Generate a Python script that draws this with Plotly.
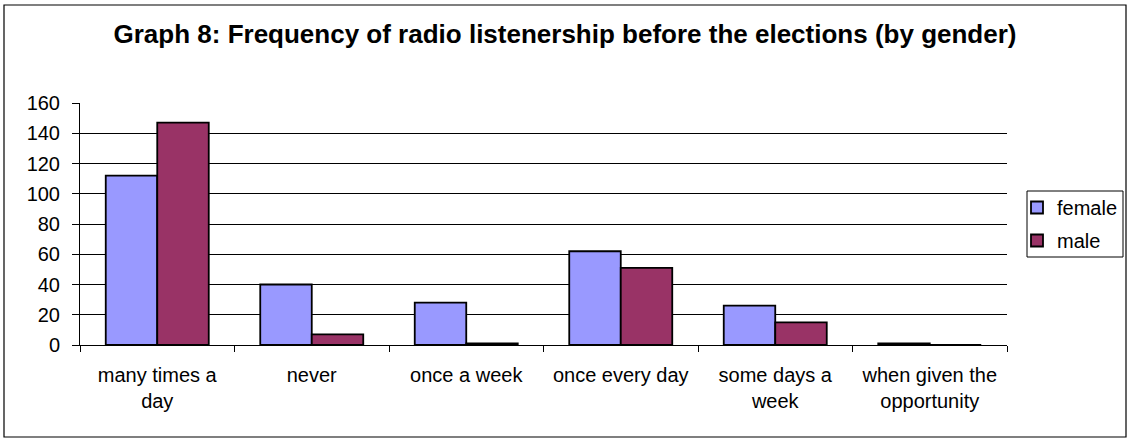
import plotly.graph_objects as go

categories = ["many times a day", "never", "once a week", "once every day",
              "some days a week", "when given the opportunity"]
tick_labels = ["many times a<br>day", "never", "once a week", "once every day",
               "some days a<br>week", "when given the<br>opportunity"]
female = [112, 40, 28, 62, 26, 1]
male = [147, 7, 1, 51, 15, 0]
y_ticks = [0, 20, 40, 60, 80, 100, 120, 140, 160]

FONT = "Liberation Sans, Arial, sans-serif"
TICK_SIZE = 20

L, R, T, B = 80, 123, 103, 96
W, H = 1130, 441
PW, PH = W - L - R, H - T - B


def px_x(p):
    return p - L


def px_y(p):
    return (H - B) - p


fig = go.Figure()
fig.add_trace(go.Bar(x=categories, y=female, name="female", legendgroup="f",
                     marker=dict(color="#9999FF", line=dict(color="black", width=1.8))))
fig.add_trace(go.Bar(x=categories, y=male, name="male", legendgroup="m",
                     marker=dict(color="#993366", line=dict(color="black", width=1.8))))

fig.update_layout(
    width=W, height=H,
    margin=dict(l=L, r=R, t=T, b=B, pad=0, autoexpand=False),
    paper_bgcolor="white", plot_bgcolor="white",
    barmode="group", bargap=1/3, bargroupgap=0,
    font=dict(family=FONT, size=TICK_SIZE, color="black"),
    title=dict(text="<b>Graph 8: Frequency of radio listenership before the elections (by gender)</b>",
               x=0.5, xanchor="center", y=1 - 34 / H, yanchor="middle",
               font=dict(family=FONT, size=26, color="black")),
    legend=dict(x=(1017 - L) / PW, xanchor="left",
                y=(H - B - 188) / PH, yanchor="top",
                borderwidth=0, bgcolor="rgba(0,0,0,0)",
                font=dict(family=FONT, size=TICK_SIZE), itemwidth=30,
                traceorder="grouped", tracegroupgap=4),
    showlegend=True,
)
fig.update_xaxes(tickvals=categories, ticktext=tick_labels,
                 showline=True, linecolor="black", linewidth=1,
                 ticks="outside", tickson="boundaries", ticklen=6,
                 tickcolor="black", showgrid=False, ticklabelstandoff=12,
                 tickfont=dict(family=FONT, size=TICK_SIZE))
fig.update_yaxes(range=[0, 160], tickvals=y_ticks,
                 showline=True, linecolor="black", linewidth=1,
                 ticks="outside", ticklen=7, tickcolor="black",
                 showgrid=True, gridcolor="black", gridwidth=1,
                 zeroline=False, ticklabelstandoff=8,
                 tickfont=dict(family=FONT, size=TICK_SIZE))

# outer frame around the whole chart
fig.add_shape(type="rect", xref="paper", yref="paper",
              xsizemode="pixel", ysizemode="pixel", xanchor=0, yanchor=0,
              x0=px_x(4), x1=px_x(1126), y0=px_y(437), y1=px_y(5),
              line=dict(color="black", width=1.2), fillcolor="rgba(0,0,0,0)",
              layer="below")
# legend frame
fig.add_shape(type="rect", xref="paper", yref="paper",
              xsizemode="pixel", ysizemode="pixel", xanchor=0, yanchor=0,
              x0=px_x(1027), x1=px_x(1123), y0=px_y(257), y1=px_y(191),
              line=dict(color="black", width=1), fillcolor="rgba(0,0,0,0)",
              layer="below")

fig.write_html("out.html")
